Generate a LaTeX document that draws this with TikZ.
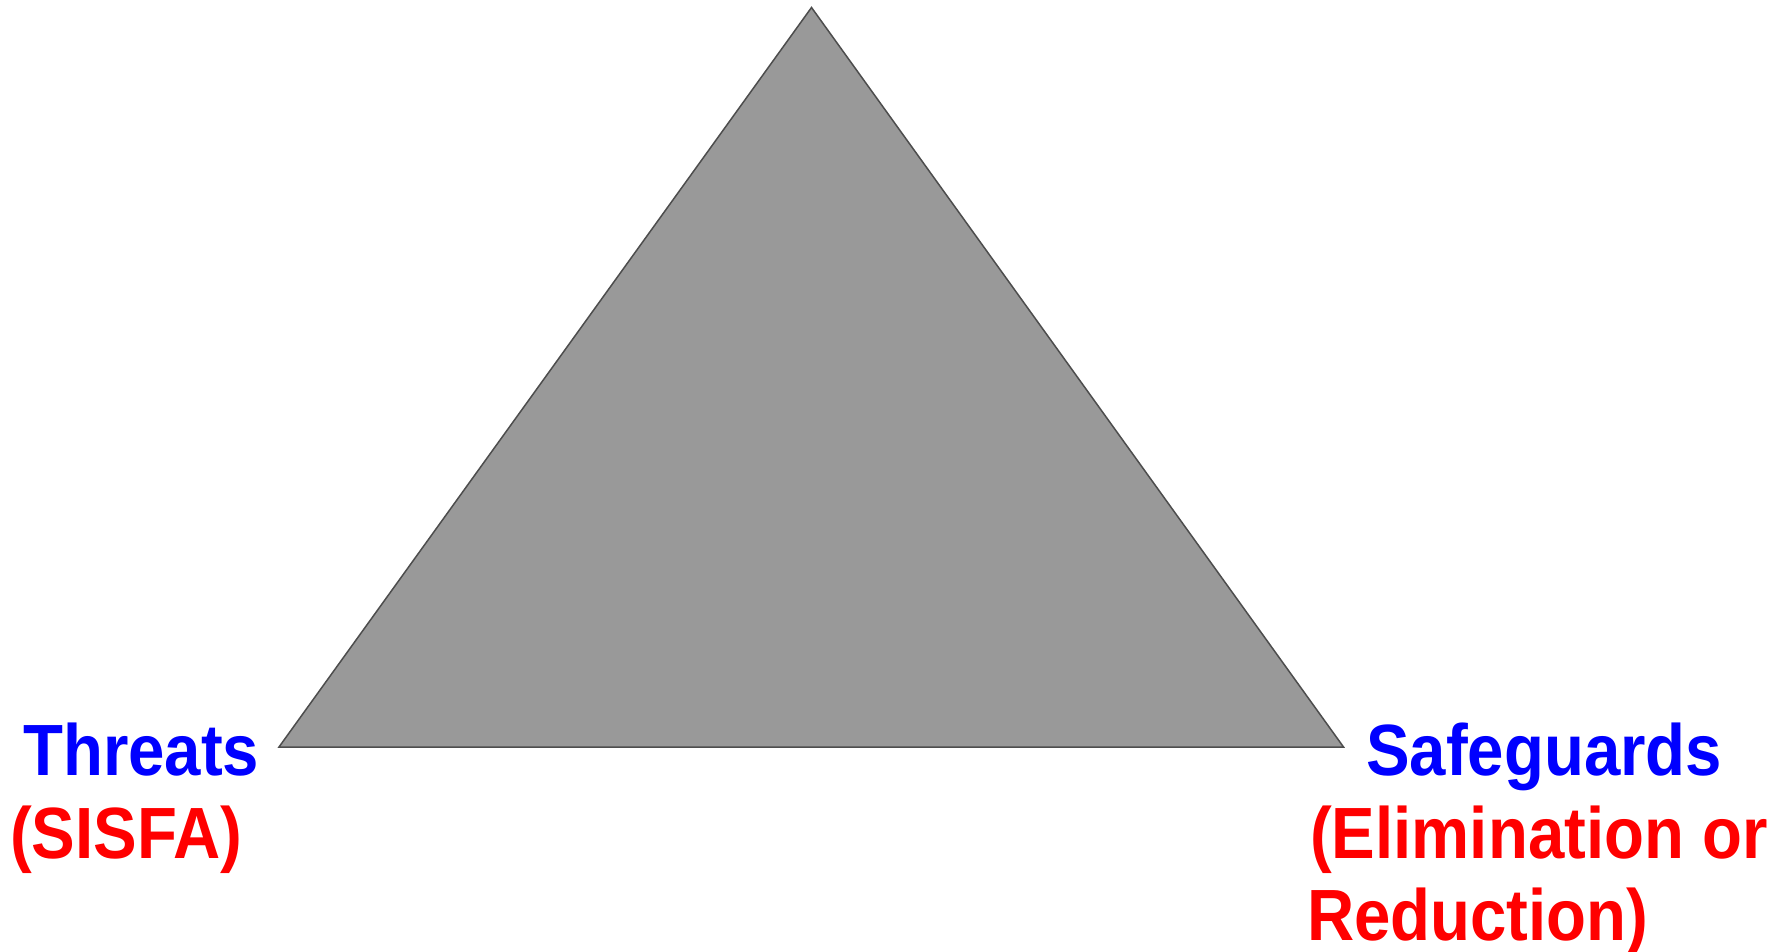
\documentclass[tikz,border=0pt]{standalone}
\usepackage{fontspec}
\setmainfont{Liberation Sans}[FakeStretch=0.9]
\definecolor{tri}{HTML}{999999}
\definecolor{triedge}{HTML}{4D4D4D}
\definecolor{lblblue}{HTML}{0000FF}
\definecolor{lblred}{HTML}{FF0000}
\tikzset{
  lbl/.style={anchor=base west, inner sep=0pt, font=\fontsize{72.6}{83}\selectfont\bfseries},
  bluelbl/.style={lbl, text=lblblue},
  redlbl/.style={lbl, text=lblred},
  tristyle/.style={fill=tri, draw=triedge, line width=1.5pt, line join=miter}
}
\begin{document}
\begin{tikzpicture}[x=1pt,y=-1pt]
\useasboundingbox (0,0) rectangle (1777,952);
\coordinate (apex) at (811.5,7.5);
\coordinate (bl) at (279,747);
\coordinate (br) at (1343.5,747);
\draw[tristyle] (apex) -- (bl) -- (br) -- cycle;
\node[bluelbl] (threats) at (23,775) {Threats};
\node[redlbl] (sisfa) at (10,858) {(SISFA)};
\node[bluelbl] (safe) at (1366,775) {Safeguards};
\node[redlbl] (elim) at (1310,858) {(Elimination or};
\node[redlbl] (red) at (1307,940) {Reduction)};
\end{tikzpicture}
\end{document}
